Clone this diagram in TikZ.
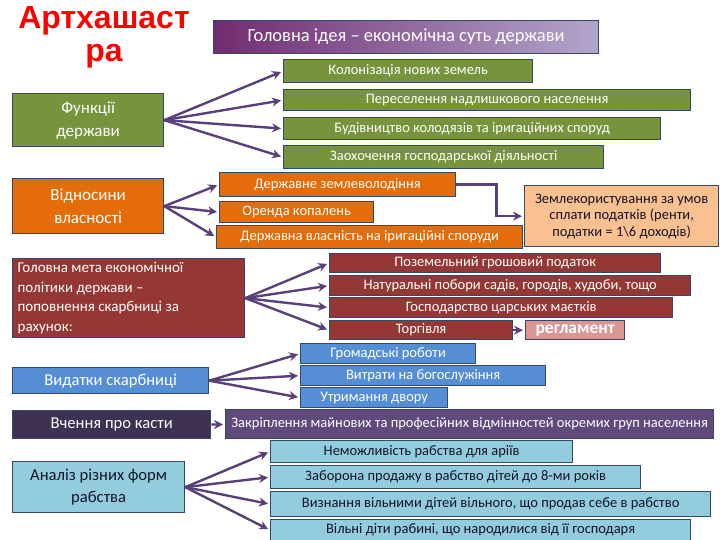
\documentclass[tikz,border=0pt]{standalone}
\usepackage{fontspec}
\setmainfont{Carlito}
\newfontfamily\titlefont{Liberation Sans}
\usetikzlibrary{positioning,arrows.meta,calc}

\definecolor{rimcol}{RGB}{52,72,108}
\definecolor{arrcol}{RGB}{90,64,122}
\definecolor{titlered}{RGB}{255,0,0}
\definecolor{ideadark}{RGB}{112,44,112}
\definecolor{idealight}{RGB}{178,166,204}
\definecolor{olive}{RGB}{119,147,60}
\definecolor{orng}{RGB}{228,108,10}
\definecolor{peach}{RGB}{250,192,144}
\definecolor{wine}{RGB}{149,55,53}
\definecolor{rose}{RGB}{217,150,148}
\definecolor{midblue}{RGB}{85,142,213}
\definecolor{kastdark}{RGB}{63,49,81}
\definecolor{lilac}{RGB}{96,74,123}
\definecolor{skyblue}{RGB}{147,205,221}
\definecolor{inkdark}{RGB}{20,20,40}

\begin{document}
\begin{tikzpicture}[x=1pt, y=-1pt,
  kbox/.style={draw=rimcol, line width=1.3pt, inner sep=0.5pt, anchor=north west,
    align=center, text=white, font=\fontsize{14.5}{15}\selectfont},
  lead/.style={kbox, font=\fontsize{16.6}{18}\selectfont},
  arr/.style={draw=arrcol, line width=2.4pt, -{Stealth[length=9pt,width=9pt]}, shorten >=2pt}]
  \newcommand\kbox[6]{
    \node[kbox, #1, minimum width=#4pt, minimum height=#5pt] (#2) at (#3) {#6};
  }
  \useasboundingbox (0,0) rectangle (720,540);

  % title
  \node[text=titlered, align=center, font=\titlefont\bfseries\fontsize{32}{33}\selectfont] (title) at (104,37) {Артхашаст\\ра};

  \node[kbox, left color=ideadark, right color=idealight, minimum width=385pt, minimum height=33pt,
    font=\fontsize{18.5}{19}\selectfont] (idea) at (213,20) {Головна ідея -- економічна суть держави};

  % functions
  \kbox{lead, fill=olive, font=\fontsize{17}{23}\selectfont}{fun}{12,93}{151}{53}{Функції\\держави}
  \kbox{fill=olive}{g1}{283,59}{249}{23}{Колонізація нових земель}
  \kbox{fill=olive}{g2}{283,89}{407}{21}{Переселення надлишкового населення}
  \kbox{fill=olive}{g3}{283,117}{377}{22}{Будівництво колодязів та іригаційних споруд}
  \kbox{fill=olive}{g4}{283,145}{320}{23}{Заохочення господарської діяльності}
  \foreach \t in {g1,g2,g3,g4}
    \draw[arr] (fun.east) -- (\t.west);

  % property
  \kbox{lead, fill=orng, font=\fontsize{17}{23}\selectfont}{vl}{12,178}{151}{55}{Відносини\\власності}
  \kbox{fill=orng}{dz}{219,172}{236}{24}{Державне землеволодіння}
  \kbox{fill=orng}{ok}{219,201}{154}{21}{Оренда копалень}
  \kbox{fill=orng}{dv}{216,225}{306}{23}{Державна власність на іригаційні споруди}
  \kbox{fill=peach, text=inkdark, font=\fontsize{14.5}{16.5}\selectfont}{zk}{524,185}{194}{61}{Землекористування за умов\\сплати податків (ренти,\\податки = 1\textbackslash 6 доходів)}
  \foreach \t in {dz,ok,dv}
    \draw[arr] (vl.east) -- (\t.west);
  \draw[arr] (dz.east) -- ++(40,0) |- (zk.west);

  % treasury income
  \kbox{lead, fill=wine, align=flush left, text width=222pt, font=\fontsize{15}{19.5}\selectfont}{gm}{12,258}{232}{79}{Головна мета економічної\\політики держави --\\поповнення скарбниці за\\рахунок:}
  \kbox{fill=wine}{p1}{329,253}{331}{19}{Поземельний грошовий податок}
  \kbox{fill=wine}{p2}{329,275}{361}{20}{Натуральні побори садів, городів, худоби, тощо}
  \kbox{fill=wine}{p3}{329,297}{343}{20}{Господарство царських маєтків}
  \kbox{fill=wine}{p4}{329,320}{183}{19}{Торгівля}
  \kbox{fill=rose, inner sep=0pt, font=\bfseries\fontsize{17.5}{17.5}\selectfont}{rg}{525,320}{99}{19}{регламент}
  \foreach \t in {p1,p2,p3,p4}
    \draw[arr] (gm.east) -- (\t.west);
  \draw[arr] (p4) -- (rg);

  % expenses
  \kbox{lead, fill=midblue}{vd}{12,367}{196}{26}{Видатки скарбниці}
  \kbox{fill=midblue}{b1}{300,343}{175}{20}{Громадські роботи}
  \kbox{fill=midblue}{b2}{300,365}{245}{20}{Витрати на богослужіння}
  \kbox{fill=midblue}{b3}{300,387}{147}{20}{Утримання двору}
  \foreach \t in {b1,b2,b3}
    \draw[arr] (vd.east) -- (\t.west);

  % castes
  \kbox{lead, fill=kastdark}{ks}{12,410}{198}{28}{Вчення про касти}
  \kbox{fill=lilac}{zr}{225,409}{488}{29}{Закріплення майнових та професійних відмінностей окремих груп населення}
  \draw[arr] (ks) -- (zr);

  % slavery
  \kbox{lead, fill=skyblue, text=inkdark, font=\fontsize{16.6}{22}\selectfont}{an}{12,461}{172}{51}{Аналіз різних форм\\рабства}
  \kbox{fill=skyblue, text=inkdark}{l1}{270,440}{302}{22}{Неможливість рабства для аріїв}
  \kbox{fill=skyblue, text=inkdark}{l2}{270,465}{370}{23}{Заборона продажу в рабство дітей до 8-ми років}
  \kbox{fill=skyblue, text=inkdark}{l3}{270,491}{440}{25}{Визнання вільними дітей вільного, що продав себе в рабство}
  \kbox{fill=skyblue, text=inkdark}{l4}{270,519}{420}{21}{Вільні діти рабині, що народилися від її господаря}
  \foreach \t in {l1,l2,l3,l4}
    \draw[arr] (an.east) -- (\t.west);
\end{tikzpicture}
\end{document}
